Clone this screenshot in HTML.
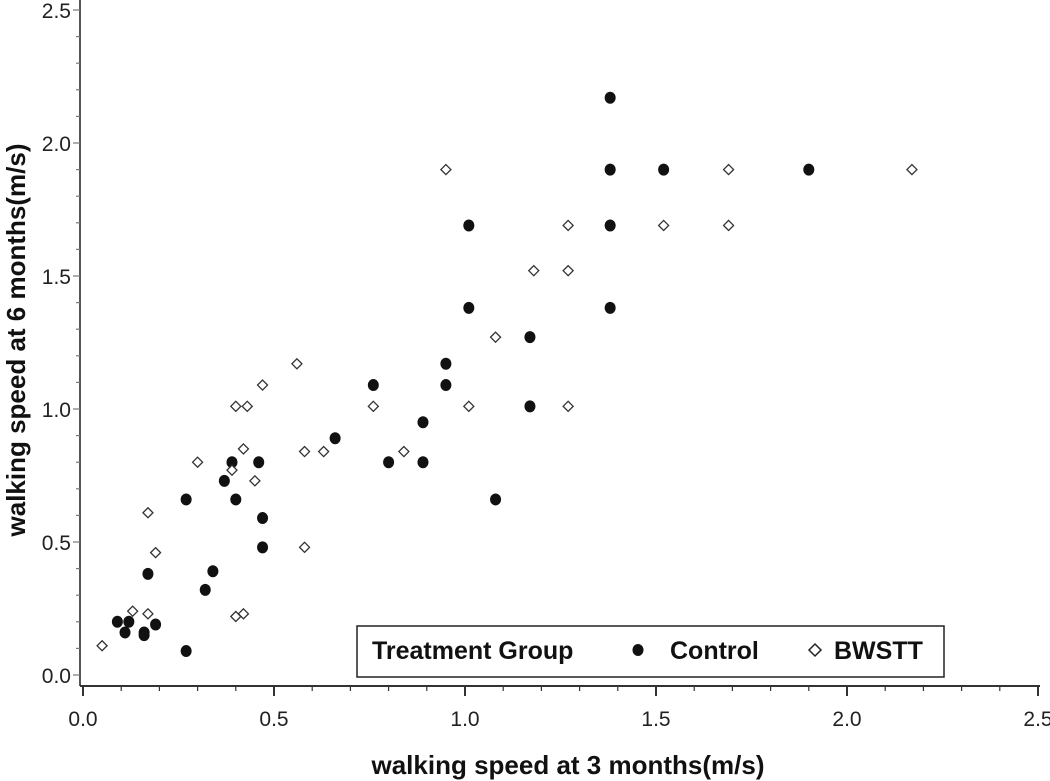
<!DOCTYPE html>
<html><head><meta charset="utf-8"><style>
html,body{margin:0;padding:0;background:#fff;}
svg{display:block;font-family:"Liberation Sans",Arial,sans-serif;}
</style></head><body>
<svg id="chart" width="1050" height="781" viewBox="0 0 1050 781">
<g id="axes"></g><g id="pts"></g>
<text x="568" y="774" text-anchor="middle" font-size="26" font-weight="bold" fill="#111">walking speed at 3 months(m/s)</text>
<text transform="translate(25,340) rotate(-90)" text-anchor="middle" font-size="26" font-weight="bold" fill="#111">walking speed at 6 months(m/s)</text>
<g>
<rect x="357" y="626" width="587" height="51" fill="#fff" stroke="#222" stroke-width="1.5"/>
<text x="372" y="659" font-size="25" font-weight="bold" fill="#111">Treatment Group</text>
<ellipse cx="638" cy="650" rx="5.5" ry="6" fill="#111"/>
<text x="670" y="659" font-size="25" font-weight="bold" fill="#111">Control</text>
<path d="M 815 644 L 821 650 L 815 656 L 809 650 Z" fill="#fff" stroke="#222" stroke-width="1.5"/>
<text x="834" y="659" font-size="25" font-weight="bold" fill="#111">BWSTT</text>
</g>
</svg>
<script>
const xTicks=[0.0,0.5,1.0,1.5,2.0,2.5];
const yTicks=[0.0,0.5,1.0,1.5,2.0,2.5];
const controlX=[1.38,1.38,1.52,1.90,1.38,1.01,1.38,1.01,1.17,1.17,0.95,0.95,0.76,0.66,0.89,0.80,0.89,1.08,0.39,0.46,0.37,0.40,0.47,0.47,0.27,0.17,0.34,0.32,0.09,0.12,0.11,0.16,0.16,0.19,0.27];
const controlY=[2.17,1.90,1.90,1.90,1.69,1.69,1.38,1.38,1.27,1.01,1.17,1.09,1.09,0.89,0.95,0.80,0.80,0.66,0.80,0.80,0.73,0.66,0.59,0.48,0.66,0.38,0.39,0.32,0.20,0.20,0.16,0.16,0.15,0.19,0.09];
const bwsttX=[0.05,0.13,0.17,0.17,0.19,0.30,0.40,0.43,0.47,0.56,0.42,0.39,0.45,0.40,0.42,0.58,0.58,0.63,0.76,0.84,0.95,1.01,1.08,1.18,1.27,1.27,1.27,1.52,1.69,1.69,2.17];
const bwsttY=[0.11,0.24,0.23,0.61,0.46,0.80,1.01,1.01,1.09,1.17,0.85,0.77,0.73,0.22,0.23,0.84,0.48,0.84,1.01,0.84,1.90,1.01,1.27,1.52,1.52,1.69,1.01,1.69,1.90,1.69,1.90];
const NS='http://www.w3.org/2000/svg';
const X=v=>83+v*382, Y=v=>675-v*266;
const ax=document.getElementById('axes'), pts=document.getElementById('pts');
function mk(tag,attrs,parent){const e=document.createElementNS(NS,tag);for(const k in attrs)e.setAttribute(k,attrs[k]);parent.appendChild(e);return e;}
let l=mk('line',{x1:80,y1:0,x2:80,y2:686,stroke:'#555','stroke-width':2},ax);


l=mk('line',{x1:80,y1:686,x2:1040,y2:686,stroke:'#333','stroke-width':2},ax);


for(let i=0;i<=25;i++){const v=i/10,maj=i%5===0;
 mk('line',{x1:X(v),y1:686,x2:X(v),y2:686+(maj?10:5),stroke:'#333','stroke-width':maj?2:1.2},ax);
 mk('line',{x1:80,y1:Y(v),x2:80-(maj?7:4),y2:Y(v),stroke:'#777','stroke-width':1.2},ax);}
xTicks.forEach(v=>{const t=mk('text',{x:X(v),y:726,'text-anchor':'middle','font-size':21,fill:'#222'},ax);t.textContent=v.toFixed(1);
 
 });
yTicks.forEach(v=>{const t=mk('text',{x:71,y:Y(v)+8,'text-anchor':'end','font-size':21,fill:'#222'},ax);t.textContent=v.toFixed(1);
 
 });
controlX.forEach((x,i)=>{const c=mk('ellipse',{cx:X(x),cy:Y(controlY[i]),rx:5.5,ry:6,fill:'#111'},pts);
 
 });
bwsttX.forEach((x,i)=>{const cx=X(x),cy=Y(bwsttY[i]);const p=mk('path',{d:`M ${cx} ${cy-5} L ${cx+5} ${cy} L ${cx} ${cy+5} L ${cx-5} ${cy} Z`,fill:'#fff',stroke:'#333','stroke-width':1.3},pts);
 
 });
</script>
</body></html>
